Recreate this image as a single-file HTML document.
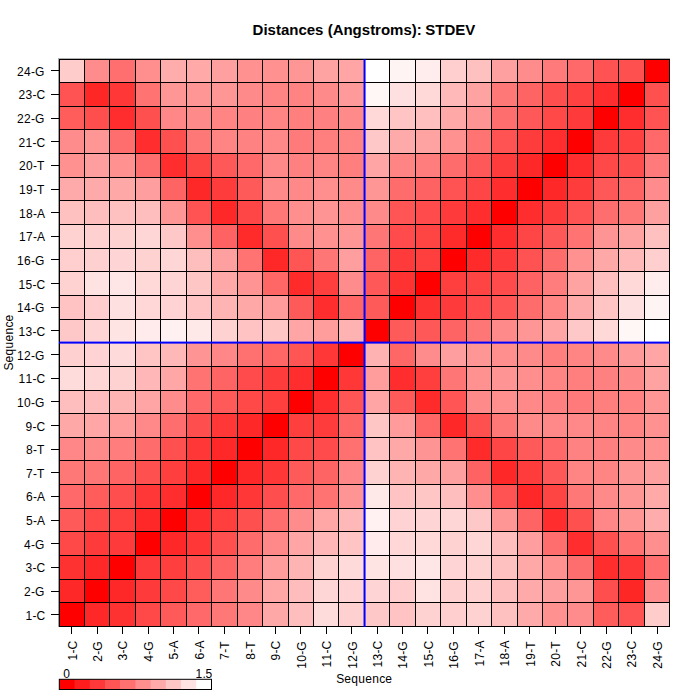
<!DOCTYPE html><html><head><meta charset="utf-8"><style>html,body{margin:0;padding:0;background:#fff;}svg{display:block;}text{font-family:"Liberation Sans",sans-serif;}</style></head><body>
<svg width="700" height="700" viewBox="0 0 700 700">
<rect x="0" y="0" width="700" height="700" fill="#fff"/>
<rect x="58.95" y="59.00" width="25.50" height="23.70" fill="#ffcccc"/>
<rect x="84.40" y="59.00" width="25.50" height="23.70" fill="#ff8c8c"/>
<rect x="109.85" y="59.00" width="25.50" height="23.70" fill="#ff6f6f"/>
<rect x="135.30" y="59.00" width="25.50" height="23.70" fill="#ff8e8e"/>
<rect x="160.75" y="59.00" width="25.50" height="23.70" fill="#ffacac"/>
<rect x="186.20" y="59.00" width="25.50" height="23.70" fill="#ffa9a9"/>
<rect x="211.65" y="59.00" width="25.50" height="23.70" fill="#ffa0a0"/>
<rect x="237.10" y="59.00" width="25.50" height="23.70" fill="#ff9191"/>
<rect x="262.55" y="59.00" width="25.50" height="23.70" fill="#ff9191"/>
<rect x="288.00" y="59.00" width="25.50" height="23.70" fill="#ff9696"/>
<rect x="313.45" y="59.00" width="25.50" height="23.70" fill="#ffa2a2"/>
<rect x="338.90" y="59.00" width="25.50" height="23.70" fill="#ffa5a5"/>
<rect x="364.35" y="59.00" width="25.50" height="23.70" fill="#ffffff"/>
<rect x="389.80" y="59.00" width="25.50" height="23.70" fill="#fff4f4"/>
<rect x="415.25" y="59.00" width="25.50" height="23.70" fill="#ffecec"/>
<rect x="440.70" y="59.00" width="25.50" height="23.70" fill="#ffcece"/>
<rect x="466.15" y="59.00" width="25.50" height="23.70" fill="#ffc0c0"/>
<rect x="491.60" y="59.00" width="25.50" height="23.70" fill="#ffa0a0"/>
<rect x="517.05" y="59.00" width="25.50" height="23.70" fill="#ff8c8c"/>
<rect x="542.50" y="59.00" width="25.50" height="23.70" fill="#ff7a7a"/>
<rect x="567.95" y="59.00" width="25.50" height="23.70" fill="#ff6969"/>
<rect x="593.40" y="59.00" width="25.50" height="23.70" fill="#ff5252"/>
<rect x="618.85" y="59.00" width="25.50" height="23.70" fill="#ff5050"/>
<rect x="644.30" y="59.00" width="25.50" height="23.70" fill="#ff0000"/>
<rect x="58.95" y="82.65" width="25.50" height="23.70" fill="#ff5252"/>
<rect x="84.40" y="82.65" width="25.50" height="23.70" fill="#ff2626"/>
<rect x="109.85" y="82.65" width="25.50" height="23.70" fill="#ff3737"/>
<rect x="135.30" y="82.65" width="25.50" height="23.70" fill="#ff7373"/>
<rect x="160.75" y="82.65" width="25.50" height="23.70" fill="#ff9696"/>
<rect x="186.20" y="82.65" width="25.50" height="23.70" fill="#ff9696"/>
<rect x="211.65" y="82.65" width="25.50" height="23.70" fill="#ff9696"/>
<rect x="237.10" y="82.65" width="25.50" height="23.70" fill="#ff8a8a"/>
<rect x="262.55" y="82.65" width="25.50" height="23.70" fill="#ff8484"/>
<rect x="288.00" y="82.65" width="25.50" height="23.70" fill="#ff8383"/>
<rect x="313.45" y="82.65" width="25.50" height="23.70" fill="#ff8a8a"/>
<rect x="338.90" y="82.65" width="25.50" height="23.70" fill="#ff9a9a"/>
<rect x="364.35" y="82.65" width="25.50" height="23.70" fill="#fff6f6"/>
<rect x="389.80" y="82.65" width="25.50" height="23.70" fill="#ffe0e0"/>
<rect x="415.25" y="82.65" width="25.50" height="23.70" fill="#ffd8d8"/>
<rect x="440.70" y="82.65" width="25.50" height="23.70" fill="#ffb9b9"/>
<rect x="466.15" y="82.65" width="25.50" height="23.70" fill="#ffa2a2"/>
<rect x="491.60" y="82.65" width="25.50" height="23.70" fill="#ff7878"/>
<rect x="517.05" y="82.65" width="25.50" height="23.70" fill="#ff6464"/>
<rect x="542.50" y="82.65" width="25.50" height="23.70" fill="#ff4e4e"/>
<rect x="567.95" y="82.65" width="25.50" height="23.70" fill="#ff4141"/>
<rect x="593.40" y="82.65" width="25.50" height="23.70" fill="#ff2d2d"/>
<rect x="618.85" y="82.65" width="25.50" height="23.70" fill="#ff0000"/>
<rect x="644.30" y="82.65" width="25.50" height="23.70" fill="#ff5050"/>
<rect x="58.95" y="106.29" width="25.50" height="23.70" fill="#ff5c5c"/>
<rect x="84.40" y="106.29" width="25.50" height="23.70" fill="#ff4e4e"/>
<rect x="109.85" y="106.29" width="25.50" height="23.70" fill="#ff2d2d"/>
<rect x="135.30" y="106.29" width="25.50" height="23.70" fill="#ff5050"/>
<rect x="160.75" y="106.29" width="25.50" height="23.70" fill="#ff8787"/>
<rect x="186.20" y="106.29" width="25.50" height="23.70" fill="#ff8a8a"/>
<rect x="211.65" y="106.29" width="25.50" height="23.70" fill="#ff8484"/>
<rect x="237.10" y="106.29" width="25.50" height="23.70" fill="#ff8080"/>
<rect x="262.55" y="106.29" width="25.50" height="23.70" fill="#ff8585"/>
<rect x="288.00" y="106.29" width="25.50" height="23.70" fill="#ff7e7e"/>
<rect x="313.45" y="106.29" width="25.50" height="23.70" fill="#ff8080"/>
<rect x="338.90" y="106.29" width="25.50" height="23.70" fill="#ff8a8a"/>
<rect x="364.35" y="106.29" width="25.50" height="23.70" fill="#ffd8d8"/>
<rect x="389.80" y="106.29" width="25.50" height="23.70" fill="#ffc4c4"/>
<rect x="415.25" y="106.29" width="25.50" height="23.70" fill="#ffbfbf"/>
<rect x="440.70" y="106.29" width="25.50" height="23.70" fill="#ffa8a8"/>
<rect x="466.15" y="106.29" width="25.50" height="23.70" fill="#ff9494"/>
<rect x="491.60" y="106.29" width="25.50" height="23.70" fill="#ff6e6e"/>
<rect x="517.05" y="106.29" width="25.50" height="23.70" fill="#ff5858"/>
<rect x="542.50" y="106.29" width="25.50" height="23.70" fill="#ff4848"/>
<rect x="567.95" y="106.29" width="25.50" height="23.70" fill="#ff3a3a"/>
<rect x="593.40" y="106.29" width="25.50" height="23.70" fill="#ff0000"/>
<rect x="618.85" y="106.29" width="25.50" height="23.70" fill="#ff2d2d"/>
<rect x="644.30" y="106.29" width="25.50" height="23.70" fill="#ff5252"/>
<rect x="58.95" y="129.94" width="25.50" height="23.70" fill="#ff8c8c"/>
<rect x="84.40" y="129.94" width="25.50" height="23.70" fill="#ff9696"/>
<rect x="109.85" y="129.94" width="25.50" height="23.70" fill="#ff6e6e"/>
<rect x="135.30" y="129.94" width="25.50" height="23.70" fill="#ff2d2d"/>
<rect x="160.75" y="129.94" width="25.50" height="23.70" fill="#ff5050"/>
<rect x="186.20" y="129.94" width="25.50" height="23.70" fill="#ff7878"/>
<rect x="211.65" y="129.94" width="25.50" height="23.70" fill="#ff8484"/>
<rect x="237.10" y="129.94" width="25.50" height="23.70" fill="#ff8282"/>
<rect x="262.55" y="129.94" width="25.50" height="23.70" fill="#ff8888"/>
<rect x="288.00" y="129.94" width="25.50" height="23.70" fill="#ff7b7b"/>
<rect x="313.45" y="129.94" width="25.50" height="23.70" fill="#ff7e7e"/>
<rect x="338.90" y="129.94" width="25.50" height="23.70" fill="#ff8585"/>
<rect x="364.35" y="129.94" width="25.50" height="23.70" fill="#ffc8c8"/>
<rect x="389.80" y="129.94" width="25.50" height="23.70" fill="#ffaaaa"/>
<rect x="415.25" y="129.94" width="25.50" height="23.70" fill="#ffa2a2"/>
<rect x="440.70" y="129.94" width="25.50" height="23.70" fill="#ff9191"/>
<rect x="466.15" y="129.94" width="25.50" height="23.70" fill="#ff7373"/>
<rect x="491.60" y="129.94" width="25.50" height="23.70" fill="#ff5252"/>
<rect x="517.05" y="129.94" width="25.50" height="23.70" fill="#ff3c3c"/>
<rect x="542.50" y="129.94" width="25.50" height="23.70" fill="#ff2d2d"/>
<rect x="567.95" y="129.94" width="25.50" height="23.70" fill="#ff0000"/>
<rect x="593.40" y="129.94" width="25.50" height="23.70" fill="#ff3a3a"/>
<rect x="618.85" y="129.94" width="25.50" height="23.70" fill="#ff4141"/>
<rect x="644.30" y="129.94" width="25.50" height="23.70" fill="#ff6969"/>
<rect x="58.95" y="153.58" width="25.50" height="23.70" fill="#ff9191"/>
<rect x="84.40" y="153.58" width="25.50" height="23.70" fill="#ff9e9e"/>
<rect x="109.85" y="153.58" width="25.50" height="23.70" fill="#ff9191"/>
<rect x="135.30" y="153.58" width="25.50" height="23.70" fill="#ff6e6e"/>
<rect x="160.75" y="153.58" width="25.50" height="23.70" fill="#ff2d2d"/>
<rect x="186.20" y="153.58" width="25.50" height="23.70" fill="#ff4444"/>
<rect x="211.65" y="153.58" width="25.50" height="23.70" fill="#ff5858"/>
<rect x="237.10" y="153.58" width="25.50" height="23.70" fill="#ff6969"/>
<rect x="262.55" y="153.58" width="25.50" height="23.70" fill="#ff8888"/>
<rect x="288.00" y="153.58" width="25.50" height="23.70" fill="#ff8080"/>
<rect x="313.45" y="153.58" width="25.50" height="23.70" fill="#ff8585"/>
<rect x="338.90" y="153.58" width="25.50" height="23.70" fill="#ff7e7e"/>
<rect x="364.35" y="153.58" width="25.50" height="23.70" fill="#ffa5a5"/>
<rect x="389.80" y="153.58" width="25.50" height="23.70" fill="#ff8484"/>
<rect x="415.25" y="153.58" width="25.50" height="23.70" fill="#ff7d7d"/>
<rect x="440.70" y="153.58" width="25.50" height="23.70" fill="#ff6c6c"/>
<rect x="466.15" y="153.58" width="25.50" height="23.70" fill="#ff5858"/>
<rect x="491.60" y="153.58" width="25.50" height="23.70" fill="#ff3c3c"/>
<rect x="517.05" y="153.58" width="25.50" height="23.70" fill="#ff2828"/>
<rect x="542.50" y="153.58" width="25.50" height="23.70" fill="#ff0000"/>
<rect x="567.95" y="153.58" width="25.50" height="23.70" fill="#ff2d2d"/>
<rect x="593.40" y="153.58" width="25.50" height="23.70" fill="#ff4848"/>
<rect x="618.85" y="153.58" width="25.50" height="23.70" fill="#ff4e4e"/>
<rect x="644.30" y="153.58" width="25.50" height="23.70" fill="#ff7a7a"/>
<rect x="58.95" y="177.23" width="25.50" height="23.70" fill="#ffaaaa"/>
<rect x="84.40" y="177.23" width="25.50" height="23.70" fill="#ffaaaa"/>
<rect x="109.85" y="177.23" width="25.50" height="23.70" fill="#ffa8a8"/>
<rect x="135.30" y="177.23" width="25.50" height="23.70" fill="#ff9e9e"/>
<rect x="160.75" y="177.23" width="25.50" height="23.70" fill="#ff6464"/>
<rect x="186.20" y="177.23" width="25.50" height="23.70" fill="#ff2828"/>
<rect x="211.65" y="177.23" width="25.50" height="23.70" fill="#ff3c3c"/>
<rect x="237.10" y="177.23" width="25.50" height="23.70" fill="#ff5a5a"/>
<rect x="262.55" y="177.23" width="25.50" height="23.70" fill="#ff8a8a"/>
<rect x="288.00" y="177.23" width="25.50" height="23.70" fill="#ff8888"/>
<rect x="313.45" y="177.23" width="25.50" height="23.70" fill="#ff8f8f"/>
<rect x="338.90" y="177.23" width="25.50" height="23.70" fill="#ff8a8a"/>
<rect x="364.35" y="177.23" width="25.50" height="23.70" fill="#ff9696"/>
<rect x="389.80" y="177.23" width="25.50" height="23.70" fill="#ff6c6c"/>
<rect x="415.25" y="177.23" width="25.50" height="23.70" fill="#ff6262"/>
<rect x="440.70" y="177.23" width="25.50" height="23.70" fill="#ff5252"/>
<rect x="466.15" y="177.23" width="25.50" height="23.70" fill="#ff4646"/>
<rect x="491.60" y="177.23" width="25.50" height="23.70" fill="#ff2d2d"/>
<rect x="517.05" y="177.23" width="25.50" height="23.70" fill="#ff0000"/>
<rect x="542.50" y="177.23" width="25.50" height="23.70" fill="#ff2828"/>
<rect x="567.95" y="177.23" width="25.50" height="23.70" fill="#ff3c3c"/>
<rect x="593.40" y="177.23" width="25.50" height="23.70" fill="#ff5858"/>
<rect x="618.85" y="177.23" width="25.50" height="23.70" fill="#ff6464"/>
<rect x="644.30" y="177.23" width="25.50" height="23.70" fill="#ff8c8c"/>
<rect x="58.95" y="200.88" width="25.50" height="23.70" fill="#ffc0c0"/>
<rect x="84.40" y="200.88" width="25.50" height="23.70" fill="#ffbebe"/>
<rect x="109.85" y="200.88" width="25.50" height="23.70" fill="#ffc0c0"/>
<rect x="135.30" y="200.88" width="25.50" height="23.70" fill="#ffbebe"/>
<rect x="160.75" y="200.88" width="25.50" height="23.70" fill="#ff9696"/>
<rect x="186.20" y="200.88" width="25.50" height="23.70" fill="#ff5252"/>
<rect x="211.65" y="200.88" width="25.50" height="23.70" fill="#ff2828"/>
<rect x="237.10" y="200.88" width="25.50" height="23.70" fill="#ff4646"/>
<rect x="262.55" y="200.88" width="25.50" height="23.70" fill="#ff7878"/>
<rect x="288.00" y="200.88" width="25.50" height="23.70" fill="#ff8e8e"/>
<rect x="313.45" y="200.88" width="25.50" height="23.70" fill="#ff9494"/>
<rect x="338.90" y="200.88" width="25.50" height="23.70" fill="#ff8e8e"/>
<rect x="364.35" y="200.88" width="25.50" height="23.70" fill="#ff8a8a"/>
<rect x="389.80" y="200.88" width="25.50" height="23.70" fill="#ff5555"/>
<rect x="415.25" y="200.88" width="25.50" height="23.70" fill="#ff4b4b"/>
<rect x="440.70" y="200.88" width="25.50" height="23.70" fill="#ff3a3a"/>
<rect x="466.15" y="200.88" width="25.50" height="23.70" fill="#ff2d2d"/>
<rect x="491.60" y="200.88" width="25.50" height="23.70" fill="#ff0000"/>
<rect x="517.05" y="200.88" width="25.50" height="23.70" fill="#ff2d2d"/>
<rect x="542.50" y="200.88" width="25.50" height="23.70" fill="#ff3c3c"/>
<rect x="567.95" y="200.88" width="25.50" height="23.70" fill="#ff5252"/>
<rect x="593.40" y="200.88" width="25.50" height="23.70" fill="#ff6e6e"/>
<rect x="618.85" y="200.88" width="25.50" height="23.70" fill="#ff7878"/>
<rect x="644.30" y="200.88" width="25.50" height="23.70" fill="#ffa0a0"/>
<rect x="58.95" y="224.52" width="25.50" height="23.70" fill="#ffd2d2"/>
<rect x="84.40" y="224.52" width="25.50" height="23.70" fill="#ffd0d0"/>
<rect x="109.85" y="224.52" width="25.50" height="23.70" fill="#ffd2d2"/>
<rect x="135.30" y="224.52" width="25.50" height="23.70" fill="#ffd6d6"/>
<rect x="160.75" y="224.52" width="25.50" height="23.70" fill="#ffc8c8"/>
<rect x="186.20" y="224.52" width="25.50" height="23.70" fill="#ff8e8e"/>
<rect x="211.65" y="224.52" width="25.50" height="23.70" fill="#ff6262"/>
<rect x="237.10" y="224.52" width="25.50" height="23.70" fill="#ff2a2a"/>
<rect x="262.55" y="224.52" width="25.50" height="23.70" fill="#ff5050"/>
<rect x="288.00" y="224.52" width="25.50" height="23.70" fill="#ff8a8a"/>
<rect x="313.45" y="224.52" width="25.50" height="23.70" fill="#ff9191"/>
<rect x="338.90" y="224.52" width="25.50" height="23.70" fill="#ff9696"/>
<rect x="364.35" y="224.52" width="25.50" height="23.70" fill="#ff7676"/>
<rect x="389.80" y="224.52" width="25.50" height="23.70" fill="#ff4b4b"/>
<rect x="415.25" y="224.52" width="25.50" height="23.70" fill="#ff4444"/>
<rect x="440.70" y="224.52" width="25.50" height="23.70" fill="#ff2a2a"/>
<rect x="466.15" y="224.52" width="25.50" height="23.70" fill="#ff0000"/>
<rect x="491.60" y="224.52" width="25.50" height="23.70" fill="#ff2d2d"/>
<rect x="517.05" y="224.52" width="25.50" height="23.70" fill="#ff4646"/>
<rect x="542.50" y="224.52" width="25.50" height="23.70" fill="#ff5858"/>
<rect x="567.95" y="224.52" width="25.50" height="23.70" fill="#ff7373"/>
<rect x="593.40" y="224.52" width="25.50" height="23.70" fill="#ff9494"/>
<rect x="618.85" y="224.52" width="25.50" height="23.70" fill="#ffa2a2"/>
<rect x="644.30" y="224.52" width="25.50" height="23.70" fill="#ffc0c0"/>
<rect x="58.95" y="248.17" width="25.50" height="23.70" fill="#ffcece"/>
<rect x="84.40" y="248.17" width="25.50" height="23.70" fill="#ffd0d0"/>
<rect x="109.85" y="248.17" width="25.50" height="23.70" fill="#ffd4d4"/>
<rect x="135.30" y="248.17" width="25.50" height="23.70" fill="#ffd2d2"/>
<rect x="160.75" y="248.17" width="25.50" height="23.70" fill="#ffd6d6"/>
<rect x="186.20" y="248.17" width="25.50" height="23.70" fill="#ffbebe"/>
<rect x="211.65" y="248.17" width="25.50" height="23.70" fill="#ffa0a0"/>
<rect x="237.10" y="248.17" width="25.50" height="23.70" fill="#ff7373"/>
<rect x="262.55" y="248.17" width="25.50" height="23.70" fill="#ff2828"/>
<rect x="288.00" y="248.17" width="25.50" height="23.70" fill="#ff5555"/>
<rect x="313.45" y="248.17" width="25.50" height="23.70" fill="#ff7676"/>
<rect x="338.90" y="248.17" width="25.50" height="23.70" fill="#ff9e9e"/>
<rect x="364.35" y="248.17" width="25.50" height="23.70" fill="#ff6464"/>
<rect x="389.80" y="248.17" width="25.50" height="23.70" fill="#ff3a3a"/>
<rect x="415.25" y="248.17" width="25.50" height="23.70" fill="#ff3e3e"/>
<rect x="440.70" y="248.17" width="25.50" height="23.70" fill="#ff0000"/>
<rect x="466.15" y="248.17" width="25.50" height="23.70" fill="#ff2a2a"/>
<rect x="491.60" y="248.17" width="25.50" height="23.70" fill="#ff3a3a"/>
<rect x="517.05" y="248.17" width="25.50" height="23.70" fill="#ff5252"/>
<rect x="542.50" y="248.17" width="25.50" height="23.70" fill="#ff6c6c"/>
<rect x="567.95" y="248.17" width="25.50" height="23.70" fill="#ff9191"/>
<rect x="593.40" y="248.17" width="25.50" height="23.70" fill="#ffa8a8"/>
<rect x="618.85" y="248.17" width="25.50" height="23.70" fill="#ffb9b9"/>
<rect x="644.30" y="248.17" width="25.50" height="23.70" fill="#ffcece"/>
<rect x="58.95" y="271.81" width="25.50" height="23.70" fill="#ffd2d2"/>
<rect x="84.40" y="271.81" width="25.50" height="23.70" fill="#ffe2e2"/>
<rect x="109.85" y="271.81" width="25.50" height="23.70" fill="#ffe6e6"/>
<rect x="135.30" y="271.81" width="25.50" height="23.70" fill="#ffd8d8"/>
<rect x="160.75" y="271.81" width="25.50" height="23.70" fill="#ffd4d4"/>
<rect x="186.20" y="271.81" width="25.50" height="23.70" fill="#ffc6c6"/>
<rect x="211.65" y="271.81" width="25.50" height="23.70" fill="#ffa8a8"/>
<rect x="237.10" y="271.81" width="25.50" height="23.70" fill="#ff9494"/>
<rect x="262.55" y="271.81" width="25.50" height="23.70" fill="#ff6666"/>
<rect x="288.00" y="271.81" width="25.50" height="23.70" fill="#ff2a2a"/>
<rect x="313.45" y="271.81" width="25.50" height="23.70" fill="#ff3e3e"/>
<rect x="338.90" y="271.81" width="25.50" height="23.70" fill="#ff8c8c"/>
<rect x="364.35" y="271.81" width="25.50" height="23.70" fill="#ff5858"/>
<rect x="389.80" y="271.81" width="25.50" height="23.70" fill="#ff3232"/>
<rect x="415.25" y="271.81" width="25.50" height="23.70" fill="#ff0000"/>
<rect x="440.70" y="271.81" width="25.50" height="23.70" fill="#ff3e3e"/>
<rect x="466.15" y="271.81" width="25.50" height="23.70" fill="#ff4444"/>
<rect x="491.60" y="271.81" width="25.50" height="23.70" fill="#ff4b4b"/>
<rect x="517.05" y="271.81" width="25.50" height="23.70" fill="#ff6262"/>
<rect x="542.50" y="271.81" width="25.50" height="23.70" fill="#ff7d7d"/>
<rect x="567.95" y="271.81" width="25.50" height="23.70" fill="#ffa2a2"/>
<rect x="593.40" y="271.81" width="25.50" height="23.70" fill="#ffbfbf"/>
<rect x="618.85" y="271.81" width="25.50" height="23.70" fill="#ffd8d8"/>
<rect x="644.30" y="271.81" width="25.50" height="23.70" fill="#ffecec"/>
<rect x="58.95" y="295.46" width="25.50" height="23.70" fill="#ffc3c3"/>
<rect x="84.40" y="295.46" width="25.50" height="23.70" fill="#ffcdcd"/>
<rect x="109.85" y="295.46" width="25.50" height="23.70" fill="#ffe0e0"/>
<rect x="135.30" y="295.46" width="25.50" height="23.70" fill="#ffd7d7"/>
<rect x="160.75" y="295.46" width="25.50" height="23.70" fill="#ffd3d3"/>
<rect x="186.20" y="295.46" width="25.50" height="23.70" fill="#ffc3c3"/>
<rect x="211.65" y="295.46" width="25.50" height="23.70" fill="#ffb4b4"/>
<rect x="237.10" y="295.46" width="25.50" height="23.70" fill="#ffa8a8"/>
<rect x="262.55" y="295.46" width="25.50" height="23.70" fill="#ff9b9b"/>
<rect x="288.00" y="295.46" width="25.50" height="23.70" fill="#ff5a5a"/>
<rect x="313.45" y="295.46" width="25.50" height="23.70" fill="#ff2d2d"/>
<rect x="338.90" y="295.46" width="25.50" height="23.70" fill="#ff6666"/>
<rect x="364.35" y="295.46" width="25.50" height="23.70" fill="#ff5a5a"/>
<rect x="389.80" y="295.46" width="25.50" height="23.70" fill="#ff0000"/>
<rect x="415.25" y="295.46" width="25.50" height="23.70" fill="#ff3232"/>
<rect x="440.70" y="295.46" width="25.50" height="23.70" fill="#ff3a3a"/>
<rect x="466.15" y="295.46" width="25.50" height="23.70" fill="#ff4b4b"/>
<rect x="491.60" y="295.46" width="25.50" height="23.70" fill="#ff5555"/>
<rect x="517.05" y="295.46" width="25.50" height="23.70" fill="#ff6c6c"/>
<rect x="542.50" y="295.46" width="25.50" height="23.70" fill="#ff8484"/>
<rect x="567.95" y="295.46" width="25.50" height="23.70" fill="#ffaaaa"/>
<rect x="593.40" y="295.46" width="25.50" height="23.70" fill="#ffc4c4"/>
<rect x="618.85" y="295.46" width="25.50" height="23.70" fill="#ffe0e0"/>
<rect x="644.30" y="295.46" width="25.50" height="23.70" fill="#fff4f4"/>
<rect x="58.95" y="319.10" width="25.50" height="23.70" fill="#ffc8c8"/>
<rect x="84.40" y="319.10" width="25.50" height="23.70" fill="#ffd4d4"/>
<rect x="109.85" y="319.10" width="25.50" height="23.70" fill="#ffe4e4"/>
<rect x="135.30" y="319.10" width="25.50" height="23.70" fill="#ffebeb"/>
<rect x="160.75" y="319.10" width="25.50" height="23.70" fill="#fff1f1"/>
<rect x="186.20" y="319.10" width="25.50" height="23.70" fill="#ffe8e8"/>
<rect x="211.65" y="319.10" width="25.50" height="23.70" fill="#ffd2d2"/>
<rect x="237.10" y="319.10" width="25.50" height="23.70" fill="#ffc3c3"/>
<rect x="262.55" y="319.10" width="25.50" height="23.70" fill="#ffc6c6"/>
<rect x="288.00" y="319.10" width="25.50" height="23.70" fill="#ffa5a5"/>
<rect x="313.45" y="319.10" width="25.50" height="23.70" fill="#ff9c9c"/>
<rect x="338.90" y="319.10" width="25.50" height="23.70" fill="#ffb2b2"/>
<rect x="364.35" y="319.10" width="25.50" height="23.70" fill="#ff0000"/>
<rect x="389.80" y="319.10" width="25.50" height="23.70" fill="#ff5a5a"/>
<rect x="415.25" y="319.10" width="25.50" height="23.70" fill="#ff5858"/>
<rect x="440.70" y="319.10" width="25.50" height="23.70" fill="#ff6464"/>
<rect x="466.15" y="319.10" width="25.50" height="23.70" fill="#ff7676"/>
<rect x="491.60" y="319.10" width="25.50" height="23.70" fill="#ff8a8a"/>
<rect x="517.05" y="319.10" width="25.50" height="23.70" fill="#ff9696"/>
<rect x="542.50" y="319.10" width="25.50" height="23.70" fill="#ffa5a5"/>
<rect x="567.95" y="319.10" width="25.50" height="23.70" fill="#ffc8c8"/>
<rect x="593.40" y="319.10" width="25.50" height="23.70" fill="#ffd8d8"/>
<rect x="618.85" y="319.10" width="25.50" height="23.70" fill="#fff6f6"/>
<rect x="644.30" y="319.10" width="25.50" height="23.70" fill="#ffffff"/>
<rect x="58.95" y="342.75" width="25.50" height="23.70" fill="#ffd0d0"/>
<rect x="84.40" y="342.75" width="25.50" height="23.70" fill="#ffd3d3"/>
<rect x="109.85" y="342.75" width="25.50" height="23.70" fill="#ffdada"/>
<rect x="135.30" y="342.75" width="25.50" height="23.70" fill="#ffc4c4"/>
<rect x="160.75" y="342.75" width="25.50" height="23.70" fill="#ffb8b8"/>
<rect x="186.20" y="342.75" width="25.50" height="23.70" fill="#ff9494"/>
<rect x="211.65" y="342.75" width="25.50" height="23.70" fill="#ff8787"/>
<rect x="237.10" y="342.75" width="25.50" height="23.70" fill="#ff7070"/>
<rect x="262.55" y="342.75" width="25.50" height="23.70" fill="#ff6666"/>
<rect x="288.00" y="342.75" width="25.50" height="23.70" fill="#ff5555"/>
<rect x="313.45" y="342.75" width="25.50" height="23.70" fill="#ff3737"/>
<rect x="338.90" y="342.75" width="25.50" height="23.70" fill="#ff0000"/>
<rect x="364.35" y="342.75" width="25.50" height="23.70" fill="#ffb2b2"/>
<rect x="389.80" y="342.75" width="25.50" height="23.70" fill="#ff6666"/>
<rect x="415.25" y="342.75" width="25.50" height="23.70" fill="#ff8c8c"/>
<rect x="440.70" y="342.75" width="25.50" height="23.70" fill="#ff9e9e"/>
<rect x="466.15" y="342.75" width="25.50" height="23.70" fill="#ff9696"/>
<rect x="491.60" y="342.75" width="25.50" height="23.70" fill="#ff8e8e"/>
<rect x="517.05" y="342.75" width="25.50" height="23.70" fill="#ff8a8a"/>
<rect x="542.50" y="342.75" width="25.50" height="23.70" fill="#ff7e7e"/>
<rect x="567.95" y="342.75" width="25.50" height="23.70" fill="#ff8585"/>
<rect x="593.40" y="342.75" width="25.50" height="23.70" fill="#ff8a8a"/>
<rect x="618.85" y="342.75" width="25.50" height="23.70" fill="#ff9a9a"/>
<rect x="644.30" y="342.75" width="25.50" height="23.70" fill="#ffa5a5"/>
<rect x="58.95" y="366.40" width="25.50" height="23.70" fill="#ffdcdc"/>
<rect x="84.40" y="366.40" width="25.50" height="23.70" fill="#ffd6d6"/>
<rect x="109.85" y="366.40" width="25.50" height="23.70" fill="#ffd2d2"/>
<rect x="135.30" y="366.40" width="25.50" height="23.70" fill="#ffb7b7"/>
<rect x="160.75" y="366.40" width="25.50" height="23.70" fill="#ffa6a6"/>
<rect x="186.20" y="366.40" width="25.50" height="23.70" fill="#ff7373"/>
<rect x="211.65" y="366.40" width="25.50" height="23.70" fill="#ff6464"/>
<rect x="237.10" y="366.40" width="25.50" height="23.70" fill="#ff4b4b"/>
<rect x="262.55" y="366.40" width="25.50" height="23.70" fill="#ff3c3c"/>
<rect x="288.00" y="366.40" width="25.50" height="23.70" fill="#ff2d2d"/>
<rect x="313.45" y="366.40" width="25.50" height="23.70" fill="#ff0000"/>
<rect x="338.90" y="366.40" width="25.50" height="23.70" fill="#ff3737"/>
<rect x="364.35" y="366.40" width="25.50" height="23.70" fill="#ff9c9c"/>
<rect x="389.80" y="366.40" width="25.50" height="23.70" fill="#ff2d2d"/>
<rect x="415.25" y="366.40" width="25.50" height="23.70" fill="#ff3e3e"/>
<rect x="440.70" y="366.40" width="25.50" height="23.70" fill="#ff7676"/>
<rect x="466.15" y="366.40" width="25.50" height="23.70" fill="#ff9191"/>
<rect x="491.60" y="366.40" width="25.50" height="23.70" fill="#ff9494"/>
<rect x="517.05" y="366.40" width="25.50" height="23.70" fill="#ff8f8f"/>
<rect x="542.50" y="366.40" width="25.50" height="23.70" fill="#ff8585"/>
<rect x="567.95" y="366.40" width="25.50" height="23.70" fill="#ff7e7e"/>
<rect x="593.40" y="366.40" width="25.50" height="23.70" fill="#ff8080"/>
<rect x="618.85" y="366.40" width="25.50" height="23.70" fill="#ff8a8a"/>
<rect x="644.30" y="366.40" width="25.50" height="23.70" fill="#ffa2a2"/>
<rect x="58.95" y="390.04" width="25.50" height="23.70" fill="#ffbebe"/>
<rect x="84.40" y="390.04" width="25.50" height="23.70" fill="#ffbcbc"/>
<rect x="109.85" y="390.04" width="25.50" height="23.70" fill="#ffb4b4"/>
<rect x="135.30" y="390.04" width="25.50" height="23.70" fill="#ffa5a5"/>
<rect x="160.75" y="390.04" width="25.50" height="23.70" fill="#ff8c8c"/>
<rect x="186.20" y="390.04" width="25.50" height="23.70" fill="#ff6969"/>
<rect x="211.65" y="390.04" width="25.50" height="23.70" fill="#ff5a5a"/>
<rect x="237.10" y="390.04" width="25.50" height="23.70" fill="#ff4848"/>
<rect x="262.55" y="390.04" width="25.50" height="23.70" fill="#ff3e3e"/>
<rect x="288.00" y="390.04" width="25.50" height="23.70" fill="#ff0000"/>
<rect x="313.45" y="390.04" width="25.50" height="23.70" fill="#ff2d2d"/>
<rect x="338.90" y="390.04" width="25.50" height="23.70" fill="#ff5555"/>
<rect x="364.35" y="390.04" width="25.50" height="23.70" fill="#ffa5a5"/>
<rect x="389.80" y="390.04" width="25.50" height="23.70" fill="#ff5a5a"/>
<rect x="415.25" y="390.04" width="25.50" height="23.70" fill="#ff2a2a"/>
<rect x="440.70" y="390.04" width="25.50" height="23.70" fill="#ff5555"/>
<rect x="466.15" y="390.04" width="25.50" height="23.70" fill="#ff8a8a"/>
<rect x="491.60" y="390.04" width="25.50" height="23.70" fill="#ff8e8e"/>
<rect x="517.05" y="390.04" width="25.50" height="23.70" fill="#ff8888"/>
<rect x="542.50" y="390.04" width="25.50" height="23.70" fill="#ff8080"/>
<rect x="567.95" y="390.04" width="25.50" height="23.70" fill="#ff7b7b"/>
<rect x="593.40" y="390.04" width="25.50" height="23.70" fill="#ff7e7e"/>
<rect x="618.85" y="390.04" width="25.50" height="23.70" fill="#ff8383"/>
<rect x="644.30" y="390.04" width="25.50" height="23.70" fill="#ff9696"/>
<rect x="58.95" y="413.69" width="25.50" height="23.70" fill="#ffa8a8"/>
<rect x="84.40" y="413.69" width="25.50" height="23.70" fill="#ffa6a6"/>
<rect x="109.85" y="413.69" width="25.50" height="23.70" fill="#ff9c9c"/>
<rect x="135.30" y="413.69" width="25.50" height="23.70" fill="#ff8888"/>
<rect x="160.75" y="413.69" width="25.50" height="23.70" fill="#ff6e6e"/>
<rect x="186.20" y="413.69" width="25.50" height="23.70" fill="#ff4e4e"/>
<rect x="211.65" y="413.69" width="25.50" height="23.70" fill="#ff3737"/>
<rect x="237.10" y="413.69" width="25.50" height="23.70" fill="#ff2828"/>
<rect x="262.55" y="413.69" width="25.50" height="23.70" fill="#ff0000"/>
<rect x="288.00" y="413.69" width="25.50" height="23.70" fill="#ff3e3e"/>
<rect x="313.45" y="413.69" width="25.50" height="23.70" fill="#ff3c3c"/>
<rect x="338.90" y="413.69" width="25.50" height="23.70" fill="#ff6666"/>
<rect x="364.35" y="413.69" width="25.50" height="23.70" fill="#ffc6c6"/>
<rect x="389.80" y="413.69" width="25.50" height="23.70" fill="#ff9b9b"/>
<rect x="415.25" y="413.69" width="25.50" height="23.70" fill="#ff6666"/>
<rect x="440.70" y="413.69" width="25.50" height="23.70" fill="#ff2828"/>
<rect x="466.15" y="413.69" width="25.50" height="23.70" fill="#ff5050"/>
<rect x="491.60" y="413.69" width="25.50" height="23.70" fill="#ff7878"/>
<rect x="517.05" y="413.69" width="25.50" height="23.70" fill="#ff8a8a"/>
<rect x="542.50" y="413.69" width="25.50" height="23.70" fill="#ff8888"/>
<rect x="567.95" y="413.69" width="25.50" height="23.70" fill="#ff8888"/>
<rect x="593.40" y="413.69" width="25.50" height="23.70" fill="#ff8585"/>
<rect x="618.85" y="413.69" width="25.50" height="23.70" fill="#ff8484"/>
<rect x="644.30" y="413.69" width="25.50" height="23.70" fill="#ff9191"/>
<rect x="58.95" y="437.33" width="25.50" height="23.70" fill="#ff8787"/>
<rect x="84.40" y="437.33" width="25.50" height="23.70" fill="#ff8a8a"/>
<rect x="109.85" y="437.33" width="25.50" height="23.70" fill="#ff7d7d"/>
<rect x="135.30" y="437.33" width="25.50" height="23.70" fill="#ff6c6c"/>
<rect x="160.75" y="437.33" width="25.50" height="23.70" fill="#ff5050"/>
<rect x="186.20" y="437.33" width="25.50" height="23.70" fill="#ff3737"/>
<rect x="211.65" y="437.33" width="25.50" height="23.70" fill="#ff2828"/>
<rect x="237.10" y="437.33" width="25.50" height="23.70" fill="#ff0000"/>
<rect x="262.55" y="437.33" width="25.50" height="23.70" fill="#ff2828"/>
<rect x="288.00" y="437.33" width="25.50" height="23.70" fill="#ff4848"/>
<rect x="313.45" y="437.33" width="25.50" height="23.70" fill="#ff4b4b"/>
<rect x="338.90" y="437.33" width="25.50" height="23.70" fill="#ff7070"/>
<rect x="364.35" y="437.33" width="25.50" height="23.70" fill="#ffc3c3"/>
<rect x="389.80" y="437.33" width="25.50" height="23.70" fill="#ffa8a8"/>
<rect x="415.25" y="437.33" width="25.50" height="23.70" fill="#ff9494"/>
<rect x="440.70" y="437.33" width="25.50" height="23.70" fill="#ff7373"/>
<rect x="466.15" y="437.33" width="25.50" height="23.70" fill="#ff2a2a"/>
<rect x="491.60" y="437.33" width="25.50" height="23.70" fill="#ff4646"/>
<rect x="517.05" y="437.33" width="25.50" height="23.70" fill="#ff5a5a"/>
<rect x="542.50" y="437.33" width="25.50" height="23.70" fill="#ff6969"/>
<rect x="567.95" y="437.33" width="25.50" height="23.70" fill="#ff8282"/>
<rect x="593.40" y="437.33" width="25.50" height="23.70" fill="#ff8080"/>
<rect x="618.85" y="437.33" width="25.50" height="23.70" fill="#ff8a8a"/>
<rect x="644.30" y="437.33" width="25.50" height="23.70" fill="#ff9191"/>
<rect x="58.95" y="460.98" width="25.50" height="23.70" fill="#ff7878"/>
<rect x="84.40" y="460.98" width="25.50" height="23.70" fill="#ff7676"/>
<rect x="109.85" y="460.98" width="25.50" height="23.70" fill="#ff6464"/>
<rect x="135.30" y="460.98" width="25.50" height="23.70" fill="#ff5050"/>
<rect x="160.75" y="460.98" width="25.50" height="23.70" fill="#ff3e3e"/>
<rect x="186.20" y="460.98" width="25.50" height="23.70" fill="#ff2828"/>
<rect x="211.65" y="460.98" width="25.50" height="23.70" fill="#ff0000"/>
<rect x="237.10" y="460.98" width="25.50" height="23.70" fill="#ff2828"/>
<rect x="262.55" y="460.98" width="25.50" height="23.70" fill="#ff3737"/>
<rect x="288.00" y="460.98" width="25.50" height="23.70" fill="#ff5a5a"/>
<rect x="313.45" y="460.98" width="25.50" height="23.70" fill="#ff6464"/>
<rect x="338.90" y="460.98" width="25.50" height="23.70" fill="#ff8787"/>
<rect x="364.35" y="460.98" width="25.50" height="23.70" fill="#ffd2d2"/>
<rect x="389.80" y="460.98" width="25.50" height="23.70" fill="#ffb4b4"/>
<rect x="415.25" y="460.98" width="25.50" height="23.70" fill="#ffa8a8"/>
<rect x="440.70" y="460.98" width="25.50" height="23.70" fill="#ffa0a0"/>
<rect x="466.15" y="460.98" width="25.50" height="23.70" fill="#ff6262"/>
<rect x="491.60" y="460.98" width="25.50" height="23.70" fill="#ff2828"/>
<rect x="517.05" y="460.98" width="25.50" height="23.70" fill="#ff3c3c"/>
<rect x="542.50" y="460.98" width="25.50" height="23.70" fill="#ff5858"/>
<rect x="567.95" y="460.98" width="25.50" height="23.70" fill="#ff8484"/>
<rect x="593.40" y="460.98" width="25.50" height="23.70" fill="#ff8484"/>
<rect x="618.85" y="460.98" width="25.50" height="23.70" fill="#ff9696"/>
<rect x="644.30" y="460.98" width="25.50" height="23.70" fill="#ffa0a0"/>
<rect x="58.95" y="484.62" width="25.50" height="23.70" fill="#ff6969"/>
<rect x="84.40" y="484.62" width="25.50" height="23.70" fill="#ff5c5c"/>
<rect x="109.85" y="484.62" width="25.50" height="23.70" fill="#ff4e4e"/>
<rect x="135.30" y="484.62" width="25.50" height="23.70" fill="#ff3737"/>
<rect x="160.75" y="484.62" width="25.50" height="23.70" fill="#ff2d2d"/>
<rect x="186.20" y="484.62" width="25.50" height="23.70" fill="#ff0000"/>
<rect x="211.65" y="484.62" width="25.50" height="23.70" fill="#ff2828"/>
<rect x="237.10" y="484.62" width="25.50" height="23.70" fill="#ff3737"/>
<rect x="262.55" y="484.62" width="25.50" height="23.70" fill="#ff4e4e"/>
<rect x="288.00" y="484.62" width="25.50" height="23.70" fill="#ff6969"/>
<rect x="313.45" y="484.62" width="25.50" height="23.70" fill="#ff7373"/>
<rect x="338.90" y="484.62" width="25.50" height="23.70" fill="#ff9494"/>
<rect x="364.35" y="484.62" width="25.50" height="23.70" fill="#ffe8e8"/>
<rect x="389.80" y="484.62" width="25.50" height="23.70" fill="#ffc3c3"/>
<rect x="415.25" y="484.62" width="25.50" height="23.70" fill="#ffc6c6"/>
<rect x="440.70" y="484.62" width="25.50" height="23.70" fill="#ffbebe"/>
<rect x="466.15" y="484.62" width="25.50" height="23.70" fill="#ff8e8e"/>
<rect x="491.60" y="484.62" width="25.50" height="23.70" fill="#ff5252"/>
<rect x="517.05" y="484.62" width="25.50" height="23.70" fill="#ff2828"/>
<rect x="542.50" y="484.62" width="25.50" height="23.70" fill="#ff4444"/>
<rect x="567.95" y="484.62" width="25.50" height="23.70" fill="#ff7878"/>
<rect x="593.40" y="484.62" width="25.50" height="23.70" fill="#ff8a8a"/>
<rect x="618.85" y="484.62" width="25.50" height="23.70" fill="#ff9696"/>
<rect x="644.30" y="484.62" width="25.50" height="23.70" fill="#ffa9a9"/>
<rect x="58.95" y="508.27" width="25.50" height="23.70" fill="#ff5a5a"/>
<rect x="84.40" y="508.27" width="25.50" height="23.70" fill="#ff4848"/>
<rect x="109.85" y="508.27" width="25.50" height="23.70" fill="#ff3e3e"/>
<rect x="135.30" y="508.27" width="25.50" height="23.70" fill="#ff2828"/>
<rect x="160.75" y="508.27" width="25.50" height="23.70" fill="#ff0000"/>
<rect x="186.20" y="508.27" width="25.50" height="23.70" fill="#ff2d2d"/>
<rect x="211.65" y="508.27" width="25.50" height="23.70" fill="#ff3e3e"/>
<rect x="237.10" y="508.27" width="25.50" height="23.70" fill="#ff5050"/>
<rect x="262.55" y="508.27" width="25.50" height="23.70" fill="#ff6e6e"/>
<rect x="288.00" y="508.27" width="25.50" height="23.70" fill="#ff8c8c"/>
<rect x="313.45" y="508.27" width="25.50" height="23.70" fill="#ffa6a6"/>
<rect x="338.90" y="508.27" width="25.50" height="23.70" fill="#ffb8b8"/>
<rect x="364.35" y="508.27" width="25.50" height="23.70" fill="#fff1f1"/>
<rect x="389.80" y="508.27" width="25.50" height="23.70" fill="#ffd3d3"/>
<rect x="415.25" y="508.27" width="25.50" height="23.70" fill="#ffd4d4"/>
<rect x="440.70" y="508.27" width="25.50" height="23.70" fill="#ffd6d6"/>
<rect x="466.15" y="508.27" width="25.50" height="23.70" fill="#ffc8c8"/>
<rect x="491.60" y="508.27" width="25.50" height="23.70" fill="#ff9696"/>
<rect x="517.05" y="508.27" width="25.50" height="23.70" fill="#ff6464"/>
<rect x="542.50" y="508.27" width="25.50" height="23.70" fill="#ff2d2d"/>
<rect x="567.95" y="508.27" width="25.50" height="23.70" fill="#ff5050"/>
<rect x="593.40" y="508.27" width="25.50" height="23.70" fill="#ff8787"/>
<rect x="618.85" y="508.27" width="25.50" height="23.70" fill="#ff9696"/>
<rect x="644.30" y="508.27" width="25.50" height="23.70" fill="#ffacac"/>
<rect x="58.95" y="531.92" width="25.50" height="23.70" fill="#ff4848"/>
<rect x="84.40" y="531.92" width="25.50" height="23.70" fill="#ff3a3a"/>
<rect x="109.85" y="531.92" width="25.50" height="23.70" fill="#ff3a3a"/>
<rect x="135.30" y="531.92" width="25.50" height="23.70" fill="#ff0000"/>
<rect x="160.75" y="531.92" width="25.50" height="23.70" fill="#ff2828"/>
<rect x="186.20" y="531.92" width="25.50" height="23.70" fill="#ff3737"/>
<rect x="211.65" y="531.92" width="25.50" height="23.70" fill="#ff5050"/>
<rect x="237.10" y="531.92" width="25.50" height="23.70" fill="#ff6c6c"/>
<rect x="262.55" y="531.92" width="25.50" height="23.70" fill="#ff8888"/>
<rect x="288.00" y="531.92" width="25.50" height="23.70" fill="#ffa5a5"/>
<rect x="313.45" y="531.92" width="25.50" height="23.70" fill="#ffb7b7"/>
<rect x="338.90" y="531.92" width="25.50" height="23.70" fill="#ffc4c4"/>
<rect x="364.35" y="531.92" width="25.50" height="23.70" fill="#ffebeb"/>
<rect x="389.80" y="531.92" width="25.50" height="23.70" fill="#ffd7d7"/>
<rect x="415.25" y="531.92" width="25.50" height="23.70" fill="#ffd8d8"/>
<rect x="440.70" y="531.92" width="25.50" height="23.70" fill="#ffd2d2"/>
<rect x="466.15" y="531.92" width="25.50" height="23.70" fill="#ffd6d6"/>
<rect x="491.60" y="531.92" width="25.50" height="23.70" fill="#ffbebe"/>
<rect x="517.05" y="531.92" width="25.50" height="23.70" fill="#ff9e9e"/>
<rect x="542.50" y="531.92" width="25.50" height="23.70" fill="#ff6e6e"/>
<rect x="567.95" y="531.92" width="25.50" height="23.70" fill="#ff2d2d"/>
<rect x="593.40" y="531.92" width="25.50" height="23.70" fill="#ff5050"/>
<rect x="618.85" y="531.92" width="25.50" height="23.70" fill="#ff7373"/>
<rect x="644.30" y="531.92" width="25.50" height="23.70" fill="#ff8e8e"/>
<rect x="58.95" y="555.56" width="25.50" height="23.70" fill="#ff3232"/>
<rect x="84.40" y="555.56" width="25.50" height="23.70" fill="#ff2828"/>
<rect x="109.85" y="555.56" width="25.50" height="23.70" fill="#ff0000"/>
<rect x="135.30" y="555.56" width="25.50" height="23.70" fill="#ff3a3a"/>
<rect x="160.75" y="555.56" width="25.50" height="23.70" fill="#ff3e3e"/>
<rect x="186.20" y="555.56" width="25.50" height="23.70" fill="#ff4e4e"/>
<rect x="211.65" y="555.56" width="25.50" height="23.70" fill="#ff6464"/>
<rect x="237.10" y="555.56" width="25.50" height="23.70" fill="#ff7d7d"/>
<rect x="262.55" y="555.56" width="25.50" height="23.70" fill="#ff9c9c"/>
<rect x="288.00" y="555.56" width="25.50" height="23.70" fill="#ffb4b4"/>
<rect x="313.45" y="555.56" width="25.50" height="23.70" fill="#ffd2d2"/>
<rect x="338.90" y="555.56" width="25.50" height="23.70" fill="#ffdada"/>
<rect x="364.35" y="555.56" width="25.50" height="23.70" fill="#ffe4e4"/>
<rect x="389.80" y="555.56" width="25.50" height="23.70" fill="#ffe0e0"/>
<rect x="415.25" y="555.56" width="25.50" height="23.70" fill="#ffe6e6"/>
<rect x="440.70" y="555.56" width="25.50" height="23.70" fill="#ffd4d4"/>
<rect x="466.15" y="555.56" width="25.50" height="23.70" fill="#ffd2d2"/>
<rect x="491.60" y="555.56" width="25.50" height="23.70" fill="#ffc0c0"/>
<rect x="517.05" y="555.56" width="25.50" height="23.70" fill="#ffa8a8"/>
<rect x="542.50" y="555.56" width="25.50" height="23.70" fill="#ff9191"/>
<rect x="567.95" y="555.56" width="25.50" height="23.70" fill="#ff6e6e"/>
<rect x="593.40" y="555.56" width="25.50" height="23.70" fill="#ff2d2d"/>
<rect x="618.85" y="555.56" width="25.50" height="23.70" fill="#ff3737"/>
<rect x="644.30" y="555.56" width="25.50" height="23.70" fill="#ff6f6f"/>
<rect x="58.95" y="579.21" width="25.50" height="23.70" fill="#ff2828"/>
<rect x="84.40" y="579.21" width="25.50" height="23.70" fill="#ff0000"/>
<rect x="109.85" y="579.21" width="25.50" height="23.70" fill="#ff2828"/>
<rect x="135.30" y="579.21" width="25.50" height="23.70" fill="#ff3a3a"/>
<rect x="160.75" y="579.21" width="25.50" height="23.70" fill="#ff4848"/>
<rect x="186.20" y="579.21" width="25.50" height="23.70" fill="#ff5c5c"/>
<rect x="211.65" y="579.21" width="25.50" height="23.70" fill="#ff7676"/>
<rect x="237.10" y="579.21" width="25.50" height="23.70" fill="#ff8a8a"/>
<rect x="262.55" y="579.21" width="25.50" height="23.70" fill="#ffa6a6"/>
<rect x="288.00" y="579.21" width="25.50" height="23.70" fill="#ffbcbc"/>
<rect x="313.45" y="579.21" width="25.50" height="23.70" fill="#ffd6d6"/>
<rect x="338.90" y="579.21" width="25.50" height="23.70" fill="#ffd3d3"/>
<rect x="364.35" y="579.21" width="25.50" height="23.70" fill="#ffd4d4"/>
<rect x="389.80" y="579.21" width="25.50" height="23.70" fill="#ffcdcd"/>
<rect x="415.25" y="579.21" width="25.50" height="23.70" fill="#ffe2e2"/>
<rect x="440.70" y="579.21" width="25.50" height="23.70" fill="#ffd0d0"/>
<rect x="466.15" y="579.21" width="25.50" height="23.70" fill="#ffd0d0"/>
<rect x="491.60" y="579.21" width="25.50" height="23.70" fill="#ffbebe"/>
<rect x="517.05" y="579.21" width="25.50" height="23.70" fill="#ffaaaa"/>
<rect x="542.50" y="579.21" width="25.50" height="23.70" fill="#ff9e9e"/>
<rect x="567.95" y="579.21" width="25.50" height="23.70" fill="#ff9696"/>
<rect x="593.40" y="579.21" width="25.50" height="23.70" fill="#ff4e4e"/>
<rect x="618.85" y="579.21" width="25.50" height="23.70" fill="#ff2626"/>
<rect x="644.30" y="579.21" width="25.50" height="23.70" fill="#ff8c8c"/>
<rect x="58.95" y="602.85" width="25.50" height="23.70" fill="#ff0000"/>
<rect x="84.40" y="602.85" width="25.50" height="23.70" fill="#ff2828"/>
<rect x="109.85" y="602.85" width="25.50" height="23.70" fill="#ff3232"/>
<rect x="135.30" y="602.85" width="25.50" height="23.70" fill="#ff4848"/>
<rect x="160.75" y="602.85" width="25.50" height="23.70" fill="#ff5a5a"/>
<rect x="186.20" y="602.85" width="25.50" height="23.70" fill="#ff6969"/>
<rect x="211.65" y="602.85" width="25.50" height="23.70" fill="#ff7878"/>
<rect x="237.10" y="602.85" width="25.50" height="23.70" fill="#ff8787"/>
<rect x="262.55" y="602.85" width="25.50" height="23.70" fill="#ffa8a8"/>
<rect x="288.00" y="602.85" width="25.50" height="23.70" fill="#ffbebe"/>
<rect x="313.45" y="602.85" width="25.50" height="23.70" fill="#ffdcdc"/>
<rect x="338.90" y="602.85" width="25.50" height="23.70" fill="#ffd0d0"/>
<rect x="364.35" y="602.85" width="25.50" height="23.70" fill="#ffc8c8"/>
<rect x="389.80" y="602.85" width="25.50" height="23.70" fill="#ffc3c3"/>
<rect x="415.25" y="602.85" width="25.50" height="23.70" fill="#ffd2d2"/>
<rect x="440.70" y="602.85" width="25.50" height="23.70" fill="#ffcece"/>
<rect x="466.15" y="602.85" width="25.50" height="23.70" fill="#ffd2d2"/>
<rect x="491.60" y="602.85" width="25.50" height="23.70" fill="#ffc0c0"/>
<rect x="517.05" y="602.85" width="25.50" height="23.70" fill="#ffaaaa"/>
<rect x="542.50" y="602.85" width="25.50" height="23.70" fill="#ff9191"/>
<rect x="567.95" y="602.85" width="25.50" height="23.70" fill="#ff8c8c"/>
<rect x="593.40" y="602.85" width="25.50" height="23.70" fill="#ff5c5c"/>
<rect x="618.85" y="602.85" width="25.50" height="23.70" fill="#ff5252"/>
<rect x="644.30" y="602.85" width="25.50" height="23.70" fill="#ffcccc"/>
<path d="M59 59h1V627h-1ZM84 59h1V627h-1ZM109 59h1V627h-1ZM135 59h1V627h-1ZM160 59h1V627h-1ZM186 59h1V627h-1ZM211 59h1V627h-1ZM237 59h1V627h-1ZM262 59h1V627h-1ZM288 59h1V627h-1ZM313 59h1V627h-1ZM338 59h1V627h-1ZM364 59h1V627h-1ZM389 59h1V627h-1ZM415 59h1V627h-1ZM440 59h1V627h-1ZM466 59h1V627h-1ZM491 59h1V627h-1ZM517 59h1V627h-1ZM542 59h1V627h-1ZM567 59h1V627h-1ZM593 59h1V627h-1ZM618 59h1V627h-1ZM644 59h1V627h-1ZM669 59h1V627h-1ZM59 59H670v1H59ZM59 82H670v1H59ZM59 106H670v1H59ZM59 129H670v1H59ZM59 153H670v1H59ZM59 177H670v1H59ZM59 200H670v1H59ZM59 224H670v1H59ZM59 248H670v1H59ZM59 271H670v1H59ZM59 295H670v1H59ZM59 319H670v1H59ZM59 342H670v1H59ZM59 366H670v1H59ZM59 390H670v1H59ZM59 413H670v1H59ZM59 437H670v1H59ZM59 460H670v1H59ZM59 484H670v1H59ZM59 508H670v1H59ZM59 531H670v1H59ZM59 555H670v1H59ZM59 579H670v1H59ZM59 602H670v1H59ZM59 626H670v1H59Z" fill="#000" shape-rendering="crispEdges"/>
<rect x="58" y="59" width="1" height="568" fill="#000" fill-opacity="0.35"/>
<rect x="58" y="58" width="612" height="1" fill="#000" fill-opacity="0.3"/>
<rect x="363.55" y="59" width="2" height="568" fill="#0000ff"/>
<rect x="59" y="341.6" width="611" height="2" fill="#0000ff"/>
<path d="M51 614H59v1H51ZM71 627h1V634h-1ZM51 591H59v1H51ZM97 627h1V634h-1ZM51 567H59v1H51ZM122 627h1V634h-1ZM51 543H59v1H51ZM148 627h1V634h-1ZM51 520H59v1H51ZM173 627h1V634h-1ZM51 496H59v1H51ZM198 627h1V634h-1ZM51 472H59v1H51ZM224 627h1V634h-1ZM51 449H59v1H51ZM249 627h1V634h-1ZM51 425H59v1H51ZM275 627h1V634h-1ZM51 401H59v1H51ZM300 627h1V634h-1ZM51 378H59v1H51ZM326 627h1V634h-1ZM51 354H59v1H51ZM351 627h1V634h-1ZM51 330H59v1H51ZM377 627h1V634h-1ZM51 307H59v1H51ZM402 627h1V634h-1ZM51 283H59v1H51ZM427 627h1V634h-1ZM51 259H59v1H51ZM453 627h1V634h-1ZM51 236H59v1H51ZM478 627h1V634h-1ZM51 212H59v1H51ZM504 627h1V634h-1ZM51 189H59v1H51ZM529 627h1V634h-1ZM51 165H59v1H51ZM555 627h1V634h-1ZM51 141H59v1H51ZM580 627h1V634h-1ZM51 118H59v1H51ZM606 627h1V634h-1ZM51 94H59v1H51ZM631 627h1V634h-1ZM51 70H59v1H51ZM657 627h1V634h-1Z" fill="#000" shape-rendering="crispEdges"/>
<text x="25.50 32.50 36.50" y="620.00" font-size="12">1-C</text>
<text x="24.00 31.00 35.00" y="596.00" font-size="12">2-G</text>
<text x="25.50 32.50 36.50" y="572.00" font-size="12">3-C</text>
<text x="24.00 31.00 35.00" y="549.00" font-size="12">4-G</text>
<text x="26.00 33.00 37.00" y="525.00" font-size="12">5-A</text>
<text x="26.00 33.00 37.00" y="501.00" font-size="12">6-A</text>
<text x="26.00 33.00 37.00" y="478.00" font-size="12">7-T</text>
<text x="26.00 33.00 37.00" y="454.00" font-size="12">8-T</text>
<text x="25.50 32.50 36.50" y="431.00" font-size="12">9-C</text>
<text x="17.00 24.00 31.00 35.00" y="407.00" font-size="12">10-G</text>
<text x="18.50 25.50 32.50 36.50" y="383.00" font-size="12">11-C</text>
<text x="17.00 24.00 31.00 35.00" y="360.00" font-size="12">12-G</text>
<text x="18.50 25.50 32.50 36.50" y="336.00" font-size="12">13-C</text>
<text x="17.00 24.00 31.00 35.00" y="312.00" font-size="12">14-G</text>
<text x="18.50 25.50 32.50 36.50" y="289.00" font-size="12">15-C</text>
<text x="17.00 24.00 31.00 35.00" y="265.00" font-size="12">16-G</text>
<text x="19.00 26.00 33.00 37.00" y="241.00" font-size="12">17-A</text>
<text x="19.00 26.00 33.00 37.00" y="218.00" font-size="12">18-A</text>
<text x="19.00 26.00 33.00 37.00" y="194.00" font-size="12">19-T</text>
<text x="19.00 26.00 33.00 37.00" y="170.00" font-size="12">20-T</text>
<text x="18.50 25.50 32.50 36.50" y="147.00" font-size="12">21-C</text>
<text x="17.00 24.00 31.00 35.00" y="123.00" font-size="12">22-G</text>
<text x="18.50 25.50 32.50 36.50" y="99.00" font-size="12">23-C</text>
<text x="17.00 24.00 31.00 35.00" y="76.00" font-size="12">24-G</text>
<text x="-20.00 -13.00 -9.00" y="0.00" font-size="12" transform="translate(76.58,640.60) rotate(-90)">1-C</text>
<text x="-20.00 -13.00 -9.00" y="0.00" font-size="12" transform="translate(102.03,641.70) rotate(-90)">2-G</text>
<text x="-20.00 -13.00 -9.00" y="0.00" font-size="12" transform="translate(127.48,640.60) rotate(-90)">3-C</text>
<text x="-20.00 -13.00 -9.00" y="0.00" font-size="12" transform="translate(152.93,641.70) rotate(-90)">4-G</text>
<text x="-19.00 -12.00 -8.00" y="0.00" font-size="12" transform="translate(178.38,640.60) rotate(-90)">5-A</text>
<text x="-19.00 -12.00 -8.00" y="0.00" font-size="12" transform="translate(203.83,640.60) rotate(-90)">6-A</text>
<text x="-18.00 -11.00 -7.00" y="0.00" font-size="12" transform="translate(229.28,641.70) rotate(-90)">7-T</text>
<text x="-18.00 -11.00 -7.00" y="0.00" font-size="12" transform="translate(254.72,641.70) rotate(-90)">8-T</text>
<text x="-20.00 -13.00 -9.00" y="0.00" font-size="12" transform="translate(280.17,640.60) rotate(-90)">9-C</text>
<text x="-27.00 -20.00 -13.00 -9.00" y="0.00" font-size="12" transform="translate(305.62,641.70) rotate(-90)">10-G</text>
<text x="-27.00 -20.00 -13.00 -9.00" y="0.00" font-size="12" transform="translate(331.07,640.60) rotate(-90)">11-C</text>
<text x="-27.00 -20.00 -13.00 -9.00" y="0.00" font-size="12" transform="translate(356.52,641.70) rotate(-90)">12-G</text>
<text x="-27.00 -20.00 -13.00 -9.00" y="0.00" font-size="12" transform="translate(381.97,640.60) rotate(-90)">13-C</text>
<text x="-27.00 -20.00 -13.00 -9.00" y="0.00" font-size="12" transform="translate(407.42,641.70) rotate(-90)">14-G</text>
<text x="-27.00 -20.00 -13.00 -9.00" y="0.00" font-size="12" transform="translate(432.87,640.60) rotate(-90)">15-C</text>
<text x="-27.00 -20.00 -13.00 -9.00" y="0.00" font-size="12" transform="translate(458.32,641.70) rotate(-90)">16-G</text>
<text x="-26.00 -19.00 -12.00 -8.00" y="0.00" font-size="12" transform="translate(483.77,640.60) rotate(-90)">17-A</text>
<text x="-26.00 -19.00 -12.00 -8.00" y="0.00" font-size="12" transform="translate(509.22,640.60) rotate(-90)">18-A</text>
<text x="-25.00 -18.00 -11.00 -7.00" y="0.00" font-size="12" transform="translate(534.67,641.70) rotate(-90)">19-T</text>
<text x="-25.00 -18.00 -11.00 -7.00" y="0.00" font-size="12" transform="translate(560.12,641.70) rotate(-90)">20-T</text>
<text x="-27.00 -20.00 -13.00 -9.00" y="0.00" font-size="12" transform="translate(585.58,640.60) rotate(-90)">21-C</text>
<text x="-27.00 -20.00 -13.00 -9.00" y="0.00" font-size="12" transform="translate(611.02,641.70) rotate(-90)">22-G</text>
<text x="-27.00 -20.00 -13.00 -9.00" y="0.00" font-size="12" transform="translate(636.48,640.60) rotate(-90)">23-C</text>
<text x="-27.00 -20.00 -13.00 -9.00" y="0.00" font-size="12" transform="translate(661.92,641.70) rotate(-90)">24-G</text>
<text x="252.6" y="34.6" font-size="15" font-weight="bold">Distances (Angstroms):</text>
<text x="475.3" y="34.6" font-size="15" font-weight="bold" text-anchor="end">STDEV</text>
<text x="336.30 344.30 351.30 358.30 365.30 372.30 379.30 385.30" y="682.50" font-size="12">Sequence</text>
<text x="-28.00 -20.00 -13.00 -6.00 1.00 8.00 15.00 21.00" y="0.00" font-size="12" transform="translate(12.7,342.6) rotate(-90)">Sequence</text>
<rect x="59.30" y="679.3" width="15.82" height="10.200000000000045" fill="#ff0000"/>
<rect x="74.52" y="679.3" width="15.82" height="10.200000000000045" fill="#ff1c1c"/>
<rect x="89.74" y="679.3" width="15.82" height="10.200000000000045" fill="#ff3939"/>
<rect x="104.96" y="679.3" width="15.82" height="10.200000000000045" fill="#ff5555"/>
<rect x="120.18" y="679.3" width="15.82" height="10.200000000000045" fill="#ff7171"/>
<rect x="135.40" y="679.3" width="15.82" height="10.200000000000045" fill="#ff8e8e"/>
<rect x="150.62" y="679.3" width="15.82" height="10.200000000000045" fill="#ffaaaa"/>
<rect x="165.84" y="679.3" width="15.82" height="10.200000000000045" fill="#ffc6c6"/>
<rect x="181.06" y="679.3" width="15.82" height="10.200000000000045" fill="#ffe3e3"/>
<rect x="196.28" y="679.3" width="15.82" height="10.200000000000045" fill="#ffffff"/>
<rect x="59.3" y="679.3" width="152.20" height="10.20" fill="none" stroke="#000" stroke-width="1"/>
<text x="63.30" y="678.20" font-size="12">0</text>
<text x="195.60 202.60 205.60" y="678.20" font-size="12">1.5</text>
</svg></body></html>
